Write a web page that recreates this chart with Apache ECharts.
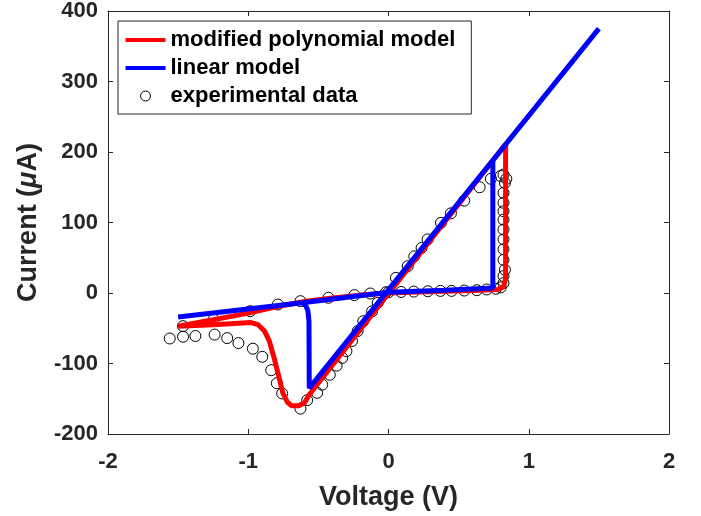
<!DOCTYPE html>
<html>
<head>
<meta charset="utf-8">
<script src="https://cdn.jsdelivr.net/npm/echarts@6/dist/echarts.min.js"></script>
<style>
  html, body { margin: 0; padding: 0; background: #fff; }
  #main { width: 701px; height: 516px; }
</style>
</head>
<body>
<div id="main"></div>
<script>
// modified polynomial model (red), traced in drawing order
var polyV = [-1.5, -1.25, -1.0, -0.8, -0.6, -0.4, -0.2, 0, 0.2, 0.4, 0.6, 0.78, 0.82, 0.835, 0.835,
    -0.564, -0.6, -0.64, -0.69, -0.72, -0.753, -0.78, -0.813, -0.85, -0.884, -0.93, -0.98, -1.25, -1.5];
var polyI = [-47, -38, -28.5, -19.5, -12, -7, -3, 0, 1.5, 2.5, 3.5, 5, 9, 20, 211,
    -144, -156, -160, -160, -155, -142, -120, -94, -68, -54, -45, -42, -45, -47];

// linear model (blue)
var linV = [0.744, 0.744, 0.4, 0, -0.6, -1.5, -0.615, -0.59, -0.575, -0.567, -0.565, 1.5];
var linI = [188, 7, 4, 1, -13.6, -34, -14, -18, -25, -40, -135, 375];

// experimental data (circles)
var expV = [0.00, 0.09, 0.18, 0.28, 0.37, 0.45, 0.54, 0.63, 0.70, 0.765, 0.80,
    0.82, 0.82, 0.83, 0.82, 0.82, 0.82, 0.82, 0.82, 0.82, 0.82, 0.82, 0.83, 0.82, 0.80, 0.84,
    0.73, 0.65, 0.54, 0.445, 0.374, 0.279, 0.236, 0.184, 0.137, 0.053, -0.018,
    -0.077, -0.117, -0.18, -0.22, -0.26, -0.30, -0.33, -0.37, -0.419, -0.473, -0.509, -0.58, -0.628,
    -0.758, -0.796, -0.836, -0.90, -0.967, -1.07, -1.15, -1.24, -1.377, -1.465, -1.56,
    -1.465, -1.247, -0.986, -0.789, -0.628, -0.428, -0.243, -0.13];
var expI = [1, 1.5, 2, 2.5, 3, 3, 3.5, 4, 5, 6, 8,
    14, 24, 33, 47, 62, 76, 90, 104, 116, 128, 142, 156, 168, 166, 162,
    162, 150, 131, 113, 99.5, 76, 64, 52, 38, 21.5, 1,
    -14, -26, -40, -54, -68, -82.5, -92, -103, -116, -130, -141.6, -152, -164,
    -142.5, -128, -109.5, -90.5, -79, -71, -64, -59, -61, -62, -64.5,
    -47, -37.6, -25.8, -16.3, -11.6, -6.8, -3, -0.7];

var xTicks = { min: -2, max: 2, interval: 1 };
var yTicks = { min: -200, max: 400, interval: 100 };

function zip(a, b) {
    return a.map(function (v, i) { return [v, b[i]]; });
}

var chartDom = document.getElementById('main');
var myChart = echarts.init(chartDom);

var font = 'Liberation Sans, Arial, Helvetica, sans-serif';
var axisColor = '#262626';

var boxAxis = {
    type: 'value',
    axisLine: { show: true, onZero: false, lineStyle: { color: axisColor, width: 1 } },
    axisTick: { show: true, inside: true, length: 5, lineStyle: { color: axisColor } },
    axisLabel: { show: false },
    splitLine: { show: false }
};

var option = {
    animation: false,
    backgroundColor: '#fff',
    grid: { left: 108, right: 32, top: 11, bottom: 81 },
    legend: {
        orient: 'vertical',
        left: 118,
        top: 21,
        padding: [8, 16, 7, 7],
        itemGap: 6,
        itemWidth: 40,
        itemHeight: 14,
        backgroundColor: '#fff',
        borderColor: axisColor,
        borderWidth: 1,
        textStyle: { fontFamily: font, fontWeight: 'bold', fontSize: 22, color: '#000' },
        data: [
            { name: 'modified polynomial model', icon: 'path://M0,0 L40,0 L40,4 L0,4 Z',
              itemStyle: { color: '#ff0000', borderWidth: 0 } },
            { name: 'linear model', icon: 'path://M0,0 L40,0 L40,4 L0,4 Z',
              itemStyle: { color: '#0000ff', borderWidth: 0 } },
            { name: 'experimental data',
              icon: 'path://M0,0 M40,14 M25,7 A5,5 0 1 1 15,7 A5,5 0 1 1 25,7 Z',
              itemStyle: { color: 'rgba(0,0,0,0)', borderColor: '#000', borderWidth: 1 } }
        ]
    },
    xAxis: [{
        type: 'value',
        min: xTicks.min,
        max: xTicks.max,
        interval: xTicks.interval,
        position: 'bottom',
        name: 'Voltage (V)',
        nameLocation: 'middle',
        nameGap: 50,
        nameTextStyle: { fontFamily: font, fontWeight: 'bold', fontSize: 27, color: axisColor },
        axisLine: { show: true, onZero: false, lineStyle: { color: axisColor, width: 1 } },
        axisTick: { show: true, inside: true, length: 5, lineStyle: { color: axisColor } },
        axisLabel: { margin: 17, fontFamily: font, fontWeight: 'bold', fontSize: 22, color: axisColor },
        splitLine: { show: false }
    }, Object.assign({}, boxAxis, {
        min: xTicks.min, max: xTicks.max, interval: xTicks.interval, position: 'top'
    })],
    yAxis: [{
        type: 'value',
        min: yTicks.min,
        max: yTicks.max,
        interval: yTicks.interval,
        position: 'left',
        name: 'Current ({mu|μ}A)',
        nameLocation: 'middle',
        nameGap: 66,
        nameRotate: 90,
        nameTextStyle: {
            fontFamily: font, fontWeight: 'bold', fontSize: 27, color: axisColor,
            rich: { mu: { fontFamily: font, fontStyle: 'italic', fontSize: 27, color: axisColor } }
        },
        axisLine: { show: true, onZero: false, lineStyle: { color: axisColor, width: 1 } },
        axisTick: { show: true, inside: true, length: 5, lineStyle: { color: axisColor } },
        axisLabel: { margin: 10, fontFamily: font, fontWeight: 'bold', fontSize: 22, color: axisColor },
        splitLine: { show: false }
    }, Object.assign({}, boxAxis, {
        min: yTicks.min, max: yTicks.max, interval: yTicks.interval, position: 'right'
    })],
    series: [
        {
            name: 'modified polynomial model',
            type: 'line',
            data: zip(polyV, polyI),
            showSymbol: false,
            color: '#ff0000',
            lineStyle: { width: 5, color: '#ff0000' }
        },
        {
            name: 'linear model',
            type: 'line',
            data: zip(linV, linI),
            showSymbol: false,
            color: '#0000ff',
            lineStyle: { width: 5, color: '#0000ff' }
        },
        {
            name: 'experimental data',
            type: 'scatter',
            data: zip(expV, expI),
            symbol: 'circle',
            symbolSize: 11,
            itemStyle: { color: 'rgba(0,0,0,0)', borderColor: '#000', borderWidth: 1, opacity: 1 }
        }
    ]
};

option && myChart.setOption(option);
</script>
</body>
</html>
